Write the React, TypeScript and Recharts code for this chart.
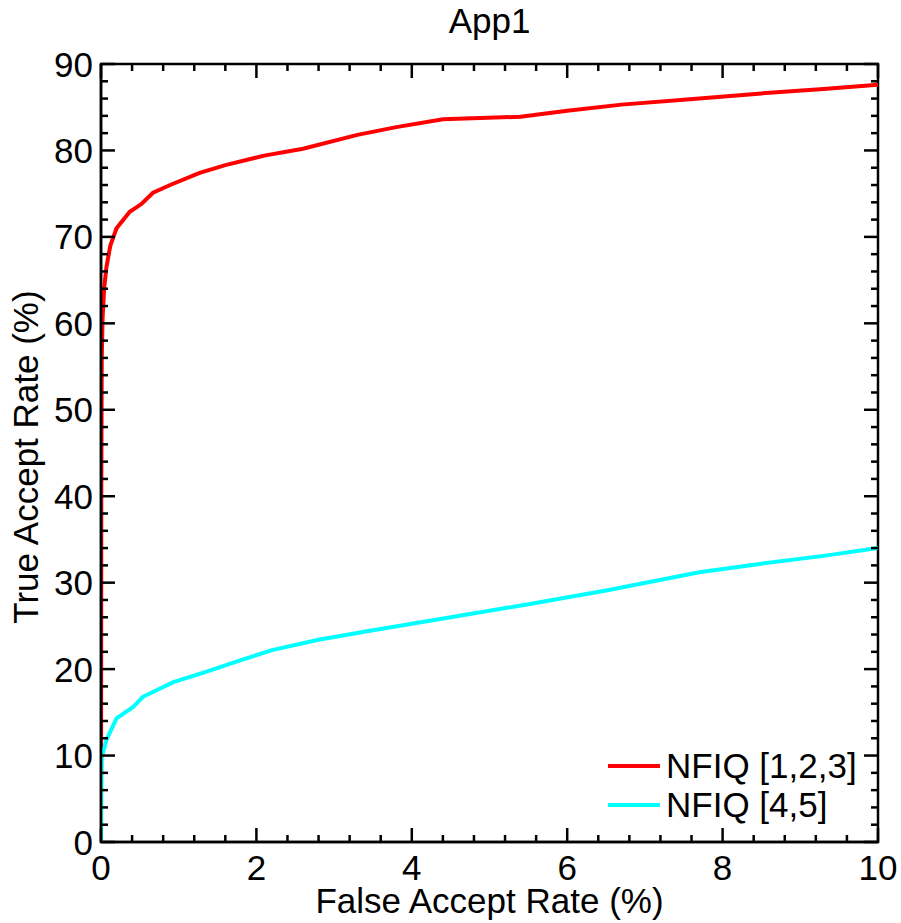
import React from 'react';
import { LineChart, Line, XAxis, YAxis, ReferenceArea } from 'recharts';

const redSeries = [
  { x: 0, y: 0 }, { x: 0.004, y: 40 }, { x: 0.01, y: 56 }, { x: 0.02, y: 60.5 }, { x: 0.04, y: 64 },
  { x: 0.07, y: 66.5 }, { x: 0.12, y: 69 }, { x: 0.2, y: 71 }, { x: 0.37, y: 72.9 }, { x: 0.52, y: 73.8 },
  { x: 0.67, y: 75.1 }, { x: 0.89, y: 76 }, { x: 1.27, y: 77.4 }, { x: 1.6, y: 78.3 }, { x: 2.1, y: 79.4 },
  { x: 2.6, y: 80.2 }, { x: 3.3, y: 81.8 }, { x: 3.8, y: 82.7 }, { x: 4.4, y: 83.6 }, { x: 5.4, y: 83.9 },
  { x: 6.0, y: 84.6 }, { x: 6.7, y: 85.3 }, { x: 7.7, y: 86.0 }, { x: 8.5, y: 86.6 }, { x: 9.3, y: 87.1 },
  { x: 10, y: 87.6 },
];

const cyanSeries = [
  { x: 0, y: 0 }, { x: 0.005, y: 6 }, { x: 0.01, y: 9.8 }, { x: 0.07, y: 11.8 }, { x: 0.2, y: 14.3 },
  { x: 0.41, y: 15.6 }, { x: 0.54, y: 16.8 }, { x: 0.93, y: 18.5 }, { x: 1.36, y: 19.7 }, { x: 1.79, y: 21.0 },
  { x: 2.2, y: 22.2 }, { x: 2.8, y: 23.4 }, { x: 3.5, y: 24.5 }, { x: 4.5, y: 26.0 }, { x: 5.5, y: 27.5 },
  { x: 6.5, y: 29.1 }, { x: 7.7, y: 31.2 }, { x: 8.5, y: 32.2 }, { x: 9.3, y: 33.1 }, { x: 10, y: 34.0 },
];

const seriesNames = ['NFIQ [1,2,3]', 'NFIQ [4,5]'];
const seriesColors = ['#ff0000', '#00ffff'];

const xTicks = [0, 0.4, 0.8, 1.2, 1.6, 2, 2.4, 2.8, 3.2, 3.6, 4, 4.4, 4.8, 5.2, 5.6, 6, 6.4, 6.8, 7.2, 7.6, 8, 8.4, 8.8, 9.2, 9.6, 10];
const xMajor = [0, 2, 4, 6, 8, 10];
const yTicks = [0, 2, 4, 6, 8, 10, 12, 14, 16, 18, 20, 22, 24, 26, 28, 30, 32, 34, 36, 38, 40, 42, 44, 46, 48, 50, 52, 54, 56, 58, 60, 62, 64, 66, 68, 70, 72, 74, 76, 78, 80, 82, 84, 86, 88, 90];
const yMajor = [0, 10, 20, 30, 40, 50, 60, 70, 80, 90];

const W = 901;
const H = 923;
const M_TOP = 64;
const M_RIGHT = 23;
const Y_W = 101;
const X_H = 81;
const PW = W - Y_W - M_RIGHT;
const PH = H - M_TOP - X_H;
const FONT = '"Liberation Sans", Arial, Helvetica, sans-serif';
const FS = 35;
const TW = 2.5;

const XTick = (props: any) => {
  const { x, y, payload } = props;
  const v = payload.value;
  const major = xMajor.includes(v);
  const len = major ? 14 : 7;
  return (
    <g>
      <line x1={x} x2={x} y1={y} y2={y - len} stroke="#000" strokeWidth={TW} />
      <line x1={x} x2={x} y1={y - PH} y2={y - PH + len} stroke="#000" strokeWidth={TW} />
      {major && (
        <text x={x} y={y + 38} textAnchor="middle" fontFamily={FONT} fontSize={FS} fill="#000">
          {v}
        </text>
      )}
    </g>
  );
};

const YTick = (props: any) => {
  const { x, y, payload } = props;
  const v = payload.value;
  const major = yMajor.includes(v);
  const len = major ? 14 : 7;
  return (
    <g>
      <line x1={x} x2={x + len} y1={y} y2={y} stroke="#000" strokeWidth={TW} />
      <line x1={x + PW} x2={x + PW - len} y1={y} y2={y} stroke="#000" strokeWidth={TW} />
      {major && (
        <text x={x - 8} y={y} dy="0.36em" textAnchor="end" fontFamily={FONT} fontSize={FS} fill="#000">
          {v}
        </text>
      )}
    </g>
  );
};

const LegendBox = () => (
  <div style={{ position: 'absolute', left: 604, top: 746, width: 280, fontFamily: FONT, fontSize: FS, color: '#000' }}>
    {seriesNames.map((n, i) => (
      <div key={n} style={{ display: 'flex', alignItems: 'center', height: 39, lineHeight: '39px' }}>
        <svg width={58} height={10} style={{ display: 'block' }}>
          <line x1={4} x2={56} y1={5} y2={5} stroke={seriesColors[i]} strokeWidth={4} />
        </svg>
        <span style={{ marginLeft: 4 }}>{n}</span>
      </div>
    ))}
  </div>
);

export default function App() {
  return (
    <div style={{ position: 'absolute', left: 0, top: 0, width: W, height: H, background: '#fff' }}>
      <div
        style={{
          position: 'absolute', left: 0, top: 1, width: 2 * (Y_W + PW / 2), textAlign: 'center',
          fontFamily: FONT, fontSize: FS, color: '#000', lineHeight: 'normal',
        }}
      >
        App1
      </div>
      <LineChart width={W} height={H} margin={{ top: M_TOP, right: M_RIGHT, bottom: 0, left: 0 }}>
        <XAxis
          type="number"
          dataKey="x"
          domain={[0, 10]}
          allowDataOverflow
          ticks={xTicks}
          interval={0}
          tickSize={0}
          tickMargin={0}
          tickLine={false}
          height={X_H}
          axisLine={{ stroke: '#000', strokeWidth: TW }}
          tick={<XTick />}
          label={{
            content: (p: any) => {
              const vb = p.viewBox;
              return (
                <text x={vb.x + vb.width / 2} y={vb.y + 71} textAnchor="middle" fontFamily={FONT} fontSize={FS} fill="#000">
                  False Accept Rate (%)
                </text>
              );
            },
          }}
        />
        <YAxis
          type="number"
          domain={[0, 90]}
          allowDataOverflow
          ticks={yTicks}
          interval={0}
          tickSize={0}
          tickMargin={0}
          tickLine={false}
          width={Y_W}
          axisLine={{ stroke: '#000', strokeWidth: TW }}
          tick={<YTick />}
          label={{
            content: (p: any) => {
              const vb = p.viewBox;
              const cx = 38;
              const cy = vb.y + vb.height / 2 + 4;
              return (
                <text x={cx} y={cy} transform={`rotate(-90, ${cx}, ${cy})`} textAnchor="middle" fontFamily={FONT} fontSize={FS} fill="#000">
                  True Accept Rate (%)
                </text>
              );
            },
          }}
        />
        <ReferenceArea x1={0} x2={10} y1={0} y2={90} fill="none" fillOpacity={0} stroke="#000" strokeWidth={TW} strokeOpacity={1} />
        <Line data={redSeries} dataKey="y" name={seriesNames[0]} type="linear" stroke={seriesColors[0]} strokeWidth={4} dot={false} isAnimationActive={false} />
        <Line data={cyanSeries} dataKey="y" name={seriesNames[1]} type="linear" stroke={seriesColors[1]} strokeWidth={4} dot={false} isAnimationActive={false} />
      </LineChart>
      <LegendBox />
    </div>
  );
}
